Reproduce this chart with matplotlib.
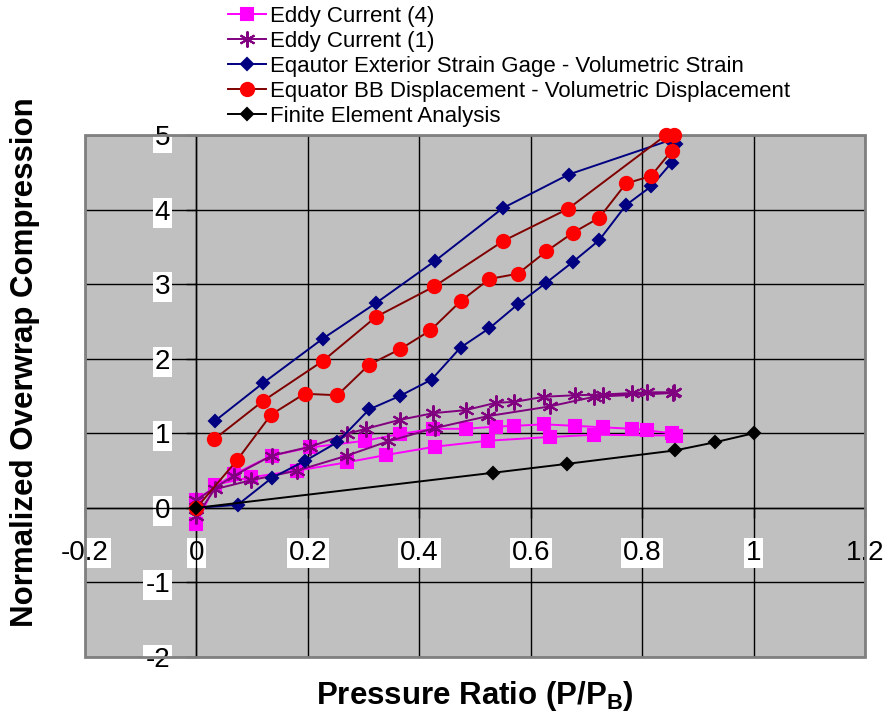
import numpy as np
import matplotlib
matplotlib.use("Agg")
import matplotlib.pyplot as plt
from matplotlib.patches import Rectangle

plt.rcParams["font.family"] = ["Liberation Sans", "DejaVu Sans"]
plt.rcParams["mathtext.fontset"] = "custom"
plt.rcParams["mathtext.rm"] = "Liberation Sans:bold"
plt.rcParams["mathtext.default"] = "rm"
plt.rcParams["axes.unicode_minus"] = False

# ── data ──────────────────────────────────────────────────────────────────────
eddy4_x = [0, 0.033, 0.098, 0.181, 0.270, 0.341, 0.428, 0.523, 0.634, 0.714, 0.855,
           0.861, 0.853, 0.809, 0.782, 0.730, 0.679, 0.624, 0.570, 0.538, 0.483,
           0.425, 0.365, 0.303, 0.204, 0.135, 0.067, 0]
eddy4_y = [-0.22, 0.31, 0.41, 0.50, 0.61, 0.71, 0.82, 0.90, 0.95, 0.98, 0.97,
           0.96, 1.00, 1.04, 1.06, 1.08, 1.10, 1.12, 1.10, 1.09, 1.06,
           1.06, 0.99, 0.90, 0.81, 0.70, 0.45, 0.11]

eddy1_x = [0, 0.033, 0.098, 0.181, 0.270, 0.343, 0.428, 0.523, 0.634, 0.714, 0.855,
           0.858, 0.809, 0.782, 0.730, 0.679, 0.624, 0.570, 0.538, 0.483, 0.425,
           0.365, 0.304, 0.270, 0.204, 0.135, 0.067, 0]
eddy1_y = [-0.11, 0.25, 0.37, 0.50, 0.70, 0.89, 1.07, 1.23, 1.36, 1.49, 1.54,
           1.55, 1.55, 1.54, 1.52, 1.51, 1.49, 1.42, 1.41, 1.31, 1.27,
           1.18, 1.06, 0.99, 0.82, 0.70, 0.43, 0.11]

strain_x = [0, 0.074, 0.135, 0.195, 0.253, 0.310, 0.365, 0.422, 0.474, 0.526, 0.577,
            0.628, 0.676, 0.723, 0.771, 0.816, 0.853, 0.860, 0.850, 0.668, 0.550,
            0.428, 0.323, 0.227, 0.119, 0.034]
strain_y = [0, 0.04, 0.40, 0.63, 0.88, 1.32, 1.50, 1.72, 2.15, 2.41, 2.73,
            3.02, 3.30, 3.59, 4.06, 4.31, 4.63, 4.88, 4.93, 4.47, 4.02,
            3.31, 2.75, 2.27, 1.67, 1.17]

bb_x = [0, 0.073, 0.134, 0.194, 0.253, 0.310, 0.366, 0.420, 0.474, 0.526, 0.577,
        0.628, 0.676, 0.723, 0.771, 0.816, 0.853, 0.858, 0.843, 0.667, 0.551,
        0.427, 0.322, 0.227, 0.119, 0.032]
bb_y = [0, 0.64, 1.25, 1.53, 1.51, 1.92, 2.13, 2.38, 2.77, 3.07, 3.14,
        3.44, 3.69, 3.89, 4.35, 4.45, 4.79, 5.0, 5.0, 4.01, 3.58,
        2.97, 2.56, 1.97, 1.43, 0.92]

fea_x = [0, 0.532, 0.665, 0.859, 0.931, 1.0]
fea_y = [0, 0.47, 0.59, 0.77, 0.88, 1.0]

x_ticks = [-0.2, 0, 0.2, 0.4, 0.6, 0.8, 1, 1.2]
x_tick_labels = ["-0.2", "0", "0.2", "0.4", "0.6", "0.8", "1", "1.2"]
y_ticks = [-2, -1, 0, 1, 2, 3, 4, 5]

# ── figure ────────────────────────────────────────────────────────────────────
fig = plt.figure(figsize=(8.89, 7.13), dpi=100)
ax = fig.add_axes([85 / 889, 1 - 657 / 713, 780 / 889, 522 / 713])
ax.set_facecolor("#c0c0c0")
ax.set_xlim(-0.2, 1.2)
ax.set_ylim(-2, 5)

series = [
    (eddy4_x, eddy4_y, "Eddy Current (4)", "#ff00ff", "#ff00ff", "s", 8.5),
    (eddy1_x, eddy1_y, "Eddy Current (1)", "#800080", "#800080", (6, 2, 0), 11.5),
    (strain_x, strain_y, "Eqautor Exterior Strain Gage - Volumetric Strain",
     "#000080", "#000080", "D", 6.5),
    (bb_x, bb_y, "Equator BB Displacement - Volumetric Displacement",
     "#800000", "#ff0000", "o", 9.5),
    (fea_x, fea_y, "Finite Element Analysis", "black", "black", "D", 6.5),
]
for i, (xs, ys, lab, lc, mc, mk, ms) in enumerate(series):
    ax.plot(xs, ys, color=lc, lw=1.4, marker=mk, ms=ms, mfc=mc, mec=mc,
            mew=1.5, label=lab, zorder=4 + i, clip_on=False)

# axes cross at zero, Excel-style
for s in ["top", "right"]:
    ax.spines[s].set_visible(False)
ax.spines["left"].set_position(("data", 0))
ax.spines["bottom"].set_position(("data", 0))
ax.spines["left"].set_linewidth(1.0)
ax.spines["bottom"].set_linewidth(1.0)

ax.set_xticks(x_ticks)
ax.set_xticklabels(x_tick_labels)
ax.set_yticks(y_ticks)
ax.tick_params(axis="both", direction="out", length=7, width=1, labelsize=20)
ax.tick_params(axis="x", pad=16)
ax.tick_params(axis="y", pad=12)
for lbl in ax.get_xticklabels()[:-1] + ax.get_yticklabels():
    lbl.set_bbox(dict(facecolor="white", edgecolor="none", pad=1.5))

ax.grid(True, color="black", lw=1.0, zorder=1)
ax.set_axisbelow(True)

# grey plot-area border
ax.add_patch(Rectangle((0, 0), 1, 1, transform=ax.transAxes, fill=False,
                       edgecolor="#808080", lw=2, zorder=3, clip_on=False))

fig.text(25 / 889, 1 - 362 / 713, "Normalized Overwrap Compression",
         rotation=90, ha="center", va="center", fontsize=22.5, fontweight="bold")
fig.text(475 / 889, 1 - 696 / 713, r"Pressure Ratio (P/P$_\mathrm{B}$)",
         ha="center", va="center", fontsize=22.5, fontweight="bold")

ax.legend(loc="upper left", bbox_to_anchor=(228 / 889, 1 - 6 / 713),
          bbox_transform=fig.transFigure, frameon=False, fontsize=16,
          handlelength=1.7, handletextpad=0.2, labelspacing=0.18,
          borderaxespad=0, borderpad=0, numpoints=1)

fig.savefig("out.png", dpi=100)
